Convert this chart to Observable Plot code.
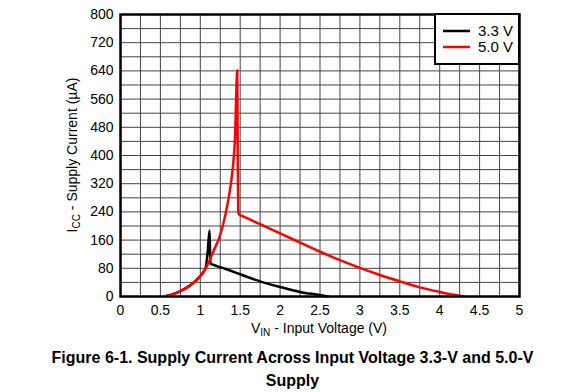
<!DOCTYPE html>
<html>
<head>
<meta charset="utf-8">
<script src="https://cdn.jsdelivr.net/npm/d3@7"></script>
<script src="https://cdn.jsdelivr.net/npm/@observablehq/plot@0.6"></script>
<style>
  body { margin: 0; background: #fff; font-family: "Liberation Sans", Arial, sans-serif; }
  #caption { width: 585px; text-align: center; font-weight: bold; font-size: 16px; line-height: 23px; padding-top: 6px; color: #000; }
</style>
</head>
<body>
<div id="chart"></div>
<div id="caption">Figure 6-1. Supply Current Across Input Voltage 3.3-V and 5.0-V<br>Supply</div>
<script>
const series = ["3.3 V", "5.0 V"];
const colors = ["#000000", "#ff0000"];

const v33x = [0.58, 0.65, 0.75, 0.85, 0.95, 1.0, 1.04, 1.066, 1.09, 1.116, 1.122, 1.128, 1.15, 1.2, 1.32, 1.5, 1.75, 2.0, 2.25, 2.5, 2.6];
const v33y = [2, 6, 15, 28, 46, 58, 70, 80, 120, 187, 130, 93, 91, 87, 78, 63, 43, 27, 13, 4, 0];

const v50x = [0.58, 0.65, 0.75, 0.85, 0.95, 1.0, 1.066, 1.17, 1.254, 1.317, 1.371, 1.408, 1.434, 1.463, 1.468, 1.475, 1.484, 1.55, 1.65, 1.75, 2.0, 2.25, 2.5, 2.75, 3.0, 3.25, 3.5, 3.75, 4.0, 4.15, 4.3];
const v50y = [2, 6, 15, 28, 46, 57, 79, 131, 178, 235, 301, 367, 443, 642, 443, 245, 233, 226, 215.5, 205, 179, 153, 127, 103, 81, 61, 43, 26, 13, 6, 1];

const xTicks = [0, 0.5, 1, 1.5, 2, 2.5, 3, 3.5, 4, 4.5, 5];
const yTicks = [0, 80, 160, 240, 320, 400, 480, 560, 640, 720, 800];
const xGrid = d3.range(0, 5.001, 0.25);
const yGrid = d3.range(0, 800.1, 40);

const data = [
  ...v33x.map((x, i) => ({x, y: v33y[i], s: series[0]})),
  ...v50x.map((x, i) => ({x, y: v50y[i], s: series[1]}))
];

const plot = Plot.plot({
  width: 585,
  height: 340,
  marginLeft: 120,
  marginRight: 66,
  marginTop: 14,
  marginBottom: 44,
  style: {fontFamily: "'Liberation Sans', Arial, sans-serif", fontSize: "14px", color: "#000", background: "#fff"},
  x: {domain: [0, 5], ticks: xTicks, tickFormat: d => String(d), tickSize: 0, tickPadding: 9, label: null},
  y: {domain: [0, 800], ticks: yTicks, tickFormat: d => String(d), tickSize: 0, tickPadding: 7, label: null},
  color: {domain: series, range: colors},
  marks: [
    Plot.ruleX(xGrid, {stroke: "#444", strokeWidth: 1}),
    Plot.ruleY(yGrid, {stroke: "#444", strokeWidth: 1}),
    Plot.line(data, {x: "x", y: "y", z: "s", stroke: "s", strokeWidth: 2.5, curve: "monotone-x"}),
    Plot.frame({stroke: "#000", strokeWidth: 2.5})
  ]
});
document.getElementById("chart").appendChild(plot);

const svg = d3.select(plot);
// axis labels with subscripts
const xl = svg.append("text").attr("x", 319).attr("y", 333).attr("text-anchor", "middle")
  .attr("font-size", 14).attr("fill", "#000");
xl.append("tspan").text("V");
xl.append("tspan").attr("font-size", 10).attr("dy", 3).text("IN");
xl.append("tspan").attr("dy", -3).text(" - Input Voltage (V)");

const yl = svg.append("text").attr("transform", "translate(77,155) rotate(-90)").attr("text-anchor", "middle")
  .attr("font-size", 14).attr("fill", "#000");
yl.append("tspan").text("I");
yl.append("tspan").attr("font-size", 10).attr("dy", 3).text("CC");
yl.append("tspan").attr("dy", -3).text(" - Supply Current (µA)");

// legend
const lg = svg.append("g").attr("text-anchor", "start");
lg.append("rect").attr("x", 435).attr("y", 14).attr("width", 84).attr("height", 50)
  .attr("fill", "#fff").attr("stroke", "#000").attr("stroke-width", 2);
series.forEach((s, i) => {
  const yy = 31 + i * 16;
  lg.append("line").attr("x1", 443).attr("x2", 470).attr("y1", yy).attr("y2", yy)
    .attr("stroke", colors[i]).attr("stroke-width", 2.5);
  lg.append("text").attr("x", 478).attr("y", yy).attr("dy", "0.35em").attr("font-size", 15)
    .attr("text-anchor", "start").attr("fill", "#000").text(s);
});
</script>
</body>
</html>
